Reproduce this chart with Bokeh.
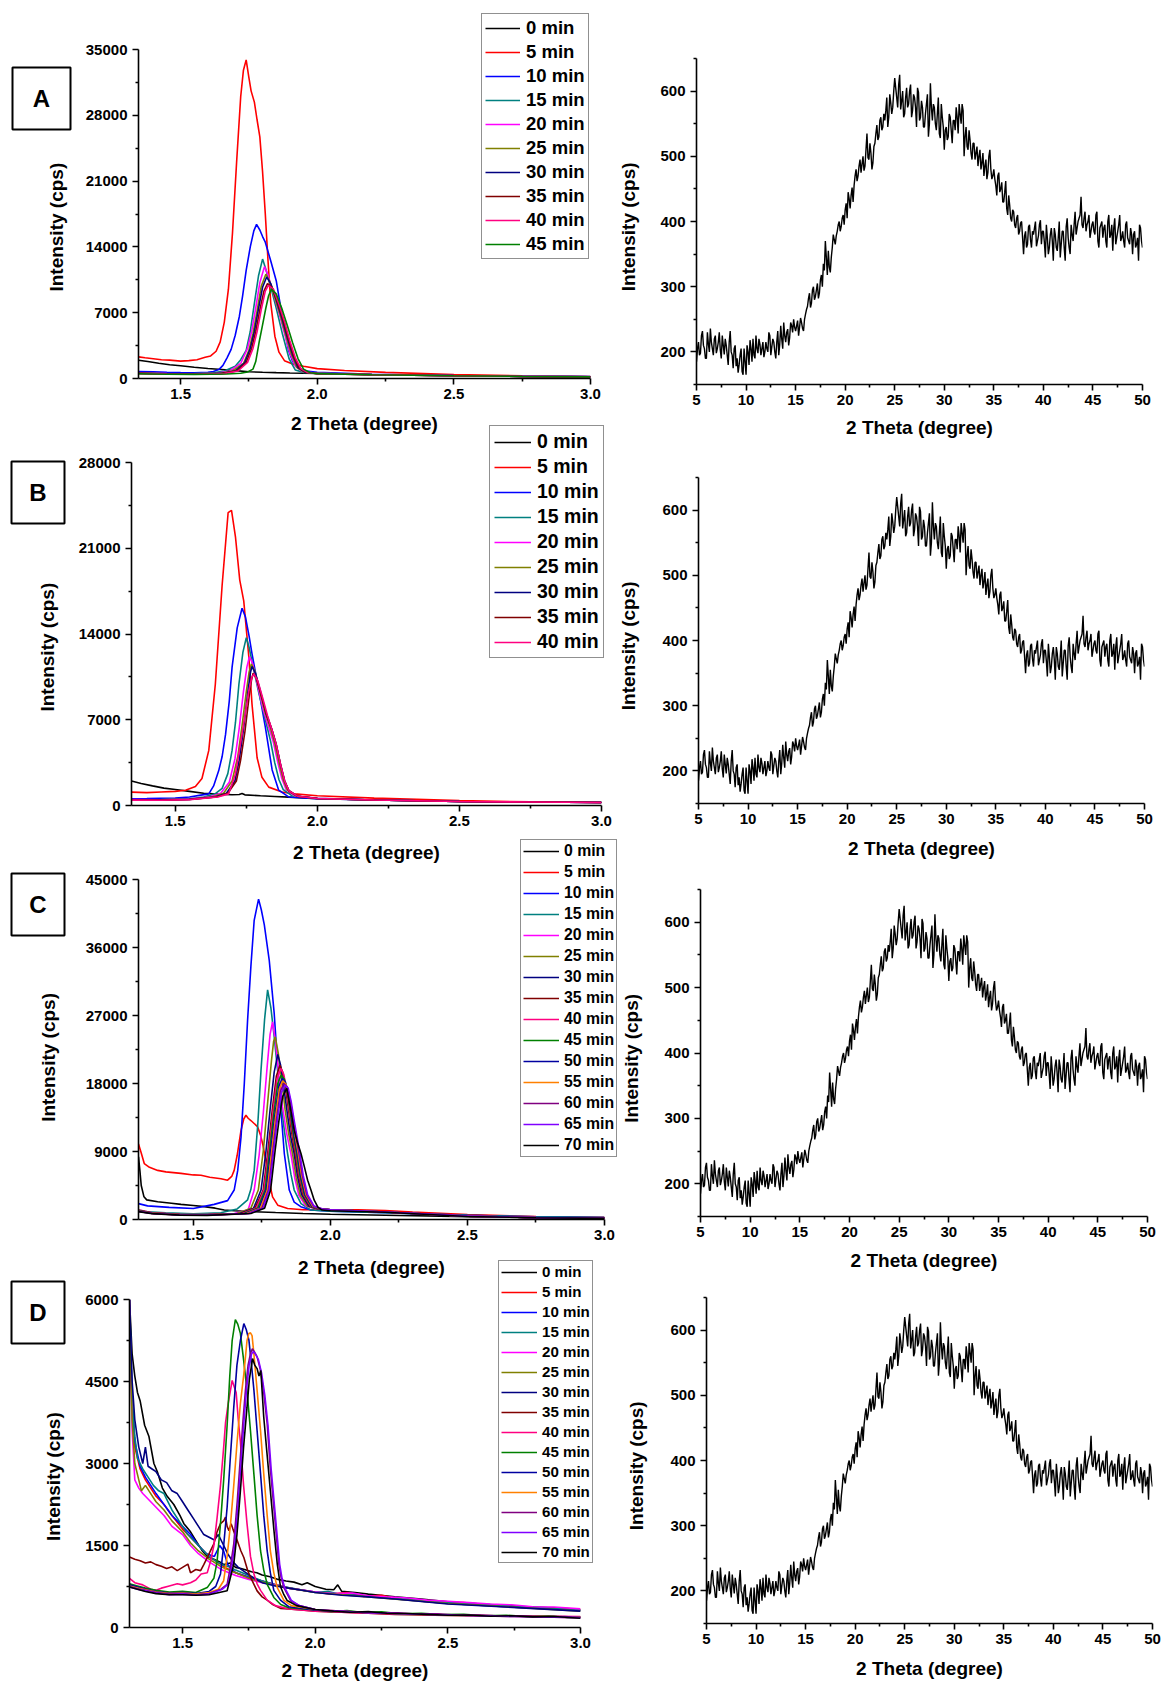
from bokeh.plotting import figure
from bokeh.models import Range1d, FixedTicker, PrintfTickFormatter, Legend, LegendItem, Label
from bokeh.embed import file_html
from bokeh.resources import INLINE

FONT = "Liberation Sans"

LABELS_A = ["0 min", "5 min", "10 min", "15 min", "20 min", "25 min", "30 min", "35 min", "40 min", "45 min"]
LABELS_B = LABELS_A[:9]
LABELS_CD = LABELS_A + ["50 min", "55 min", "60 min", "65 min", "70 min"]

COLORS = {"0 min": "#000000", "5 min": "#FF0000", "10 min": "#0000FF", "15 min": "#008080",
          "20 min": "#FF00FF", "25 min": "#808000", "30 min": "#000080", "35 min": "#800000",
          "40 min": "#FF0080", "45 min": "#008000", "50 min": "#0000A0", "55 min": "#FF8000",
          "60 min": "#800080", "65 min": "#8000FF", "70 min": "#000000"}

# ---- Panel A (flat lists: x0, y0, x1, y1, ...) ----
A_DATA = {
    "0 min": [1.346, 1950, 1.38, 1800, 1.42, 1620, 1.46, 1470, 1.50, 1350, 1.55, 1200, 1.60, 1060, 1.65, 950,
              1.70, 840, 1.75, 720, 1.80, 660, 1.85, 620, 1.90, 590, 2.0, 540, 2.2, 430, 2.5, 320, 2.75, 250, 3.0, 190],
    "5 min": [1.346, 2300, 1.37, 2200, 1.40, 2100, 1.43, 2000, 1.46, 1950, 1.50, 1850, 1.53, 1900, 1.56, 2000,
              1.59, 2250, 1.61, 2400, 1.63, 2900, 1.645, 3900, 1.66, 6000, 1.675, 9500, 1.69, 15500, 1.705, 23000,
              1.72, 30000, 1.73, 32800, 1.74, 33900, 1.75, 32000, 1.758, 30600, 1.77, 29400, 1.78, 27500,
              1.79, 25700, 1.80, 22000, 1.81, 17500, 1.82, 12500, 1.83, 8000, 1.845, 4500, 1.86, 2800,
              1.88, 1900, 1.91, 1550, 1.95, 1300, 2.0, 1050, 2.1, 850, 2.25, 650, 2.5, 420, 2.75, 280, 3.0, 200],
    "10 min": [1.346, 750, 1.40, 700, 1.45, 650, 1.50, 620, 1.55, 600, 1.60, 650, 1.62, 750, 1.64, 950,
               1.655, 1400, 1.67, 2200, 1.685, 3100, 1.70, 4600, 1.715, 6600, 1.727, 8800, 1.74, 11500,
               1.755, 14000, 1.768, 15700, 1.778, 16400, 1.79, 15800, 1.80, 15100, 1.81, 14500, 1.83, 12500,
               1.85, 10400, 1.865, 7800, 1.88, 5200, 1.895, 3000, 1.91, 1800, 1.93, 1100, 1.96, 800,
               2.0, 650, 2.2, 450, 2.5, 320, 2.75, 250, 3.0, 200],
    "15 min": [1.346, 550, 1.45, 500, 1.55, 520, 1.62, 600, 1.66, 800, 1.70, 1300, 1.72, 2000, 1.74, 3000,
               1.755, 5000, 1.77, 8000, 1.785, 10900, 1.80, 12700, 1.81, 11800, 1.825, 10300, 1.85, 7500,
               1.873, 4700, 1.897, 2100, 1.92, 900, 1.95, 650, 2.0, 550, 2.2, 420, 2.5, 300, 2.75, 230, 3.0, 180],
    "20 min": [1.346, 600, 1.45, 520, 1.55, 500, 1.63, 560, 1.68, 800, 1.72, 1600, 1.745, 3200, 1.76, 5000,
               1.775, 7500, 1.79, 10200, 1.807, 11900, 1.82, 11000, 1.84, 9000, 1.86, 7000, 1.88, 4800,
               1.90, 2700, 1.92, 1300, 1.945, 750, 2.0, 560, 2.2, 420, 2.5, 300, 2.75, 230, 3.0, 180],
    "25 min": [1.346, 580, 1.45, 500, 1.55, 480, 1.64, 540, 1.69, 800, 1.73, 1600, 1.75, 3000, 1.765, 4800,
               1.78, 7200, 1.795, 9800, 1.812, 11100, 1.825, 10400, 1.845, 8600, 1.865, 6700, 1.885, 4600,
               1.905, 2600, 1.925, 1200, 1.95, 700, 2.0, 540, 2.2, 410, 2.5, 300, 2.75, 230, 3.0, 180],
    "30 min": [1.346, 560, 1.45, 490, 1.55, 470, 1.65, 540, 1.70, 800, 1.735, 1700, 1.755, 3200, 1.77, 5000,
               1.785, 7400, 1.80, 9700, 1.815, 10800, 1.83, 10100, 1.85, 8400, 1.87, 6500, 1.89, 4400,
               1.91, 2500, 1.93, 1150, 1.955, 680, 2.0, 530, 2.2, 400, 2.5, 290, 2.75, 220, 3.0, 175],
    "35 min": [1.346, 540, 1.45, 480, 1.55, 460, 1.65, 520, 1.705, 800, 1.74, 1700, 1.76, 3200, 1.775, 5000,
               1.79, 7300, 1.805, 9300, 1.818, 10100, 1.835, 9700, 1.855, 8100, 1.875, 6300, 1.895, 4200,
               1.915, 2300, 1.935, 1100, 1.96, 650, 2.0, 520, 2.2, 400, 2.5, 290, 2.75, 220, 3.0, 175],
    "40 min": [1.346, 530, 1.45, 470, 1.55, 450, 1.66, 520, 1.71, 800, 1.745, 1700, 1.765, 3200, 1.78, 5000,
               1.795, 7300, 1.81, 9300, 1.821, 9900, 1.84, 9500, 1.86, 7900, 1.88, 6100, 1.90, 4000,
               1.92, 2200, 1.94, 1050, 1.965, 640, 2.0, 520, 2.2, 400, 2.5, 290, 2.75, 220, 3.0, 175],
    "45 min": [1.346, 500, 1.45, 450, 1.55, 440, 1.67, 480, 1.72, 560, 1.745, 700, 1.765, 1000, 1.775, 1800,
               1.787, 3800, 1.80, 5700, 1.812, 7500, 1.822, 8800, 1.832, 9500, 1.85, 9000, 1.87, 7500,
               1.89, 5700, 1.91, 3800, 1.93, 2100, 1.95, 1000, 1.975, 620, 2.0, 520, 2.2, 400, 2.5, 290,
               2.75, 220, 3.0, 175],
}

# ---- Panel B ----
B_DATA = {
    "0 min": [1.346, 2000, 1.38, 1800, 1.42, 1600, 1.46, 1420, 1.50, 1300, 1.55, 1150, 1.60, 1000, 1.65, 930,
              1.70, 880, 1.725, 900, 1.735, 980, 1.745, 870, 1.80, 800, 1.85, 740, 1.90, 680, 2.0, 560,
              2.2, 450, 2.5, 330, 2.75, 290, 3.0, 260],
    "5 min": [1.346, 1090, 1.40, 1050, 1.45, 1100, 1.50, 1150, 1.536, 1250, 1.571, 1550, 1.594, 2200,
              1.618, 4500, 1.641, 9900, 1.665, 18000, 1.686, 23900, 1.698, 24100, 1.712, 21900, 1.727, 18400,
              1.741, 16700, 1.759, 12100, 1.770, 8300, 1.788, 3900, 1.805, 2300, 1.829, 1500, 1.876, 1100,
              1.92, 950, 2.0, 800, 2.2, 600, 2.5, 400, 2.75, 300, 3.0, 250],
    "10 min": [1.346, 550, 1.40, 560, 1.45, 580, 1.50, 600, 1.55, 700, 1.59, 850, 1.618, 950, 1.635, 1600,
               1.653, 2850, 1.665, 4000, 1.677, 5800, 1.69, 8500, 1.70, 11300, 1.718, 14500, 1.735, 16100,
               1.747, 15400, 1.76, 13800, 1.770, 12400, 1.794, 9400, 1.817, 6400, 1.841, 2900, 1.864, 1250,
               1.899, 700, 2.0, 560, 2.2, 450, 2.5, 330, 2.75, 280, 3.0, 240],
    "15 min": [1.346, 450, 1.45, 480, 1.55, 550, 1.60, 700, 1.64, 950, 1.665, 1400, 1.685, 2600, 1.70, 4500,
               1.712, 6800, 1.724, 9900, 1.738, 12500, 1.75, 13700, 1.76, 12900, 1.775, 11200, 1.794, 9200,
               1.817, 7000, 1.835, 5300, 1.85, 3500, 1.865, 2100, 1.88, 1300, 1.91, 800, 2.0, 580, 2.2, 450,
               2.5, 330, 2.75, 280, 3.0, 240],
    "20 min": [1.346, 480, 1.45, 470, 1.55, 520, 1.62, 700, 1.66, 1000, 1.69, 1900, 1.71, 3800, 1.725, 6300,
               1.74, 9300, 1.752, 11300, 1.761, 12150, 1.772, 11600, 1.79, 9800, 1.81, 7800, 1.83, 6300,
               1.845, 5200, 1.86, 3600, 1.875, 2200, 1.89, 1300, 1.92, 800, 2.0, 580, 2.2, 450, 2.5, 330,
               2.75, 280, 3.0, 240],
    "25 min": [1.346, 470, 1.45, 460, 1.55, 510, 1.63, 700, 1.67, 1000, 1.70, 2000, 1.72, 4000, 1.735, 6500,
               1.75, 9300, 1.76, 10900, 1.768, 11550, 1.78, 11000, 1.795, 9600, 1.815, 7700, 1.835, 6300,
               1.85, 5100, 1.865, 3500, 1.88, 2100, 1.895, 1250, 1.925, 780, 2.0, 570, 2.2, 450, 2.5, 330,
               2.75, 280, 3.0, 240],
    "30 min": [1.346, 460, 1.45, 450, 1.55, 500, 1.64, 700, 1.68, 1000, 1.71, 2000, 1.725, 3700, 1.74, 6200,
               1.755, 9200, 1.765, 10900, 1.770, 11350, 1.782, 10800, 1.80, 9300, 1.82, 7500, 1.84, 6200,
               1.855, 5000, 1.87, 3400, 1.885, 2000, 1.90, 1200, 1.93, 760, 2.0, 570, 2.2, 450, 2.5, 330,
               2.75, 280, 3.0, 240],
    "35 min": [1.346, 450, 1.45, 440, 1.55, 490, 1.645, 700, 1.685, 1000, 1.715, 2000, 1.73, 3700, 1.745, 6000,
               1.76, 8900, 1.768, 10200, 1.774, 10800, 1.785, 10400, 1.80, 9200, 1.82, 7500, 1.84, 6200,
               1.855, 5000, 1.87, 3400, 1.885, 2000, 1.90, 1200, 1.93, 760, 2.0, 570, 2.2, 450, 2.5, 330,
               2.75, 280, 3.0, 240],
    "40 min": [1.346, 440, 1.45, 430, 1.55, 480, 1.65, 700, 1.688, 950, 1.712, 2600, 1.735, 5800, 1.759, 9400,
               1.77, 10500, 1.777, 10750, 1.79, 10200, 1.805, 9000, 1.825, 7300, 1.841, 6100, 1.855, 5000,
               1.87, 3400, 1.885, 2000, 1.90, 1200, 1.93, 760, 2.0, 570, 2.2, 450, 2.5, 330, 2.75, 280, 3.0, 240],
}

# ---- Panel C ----
C_DATA = {
    "0 min": [1.30, 8300, 1.305, 6500, 1.31, 4500, 1.32, 3000, 1.33, 2600, 1.37, 2350, 1.42, 2150, 1.455, 2000,
              1.50, 1850, 1.54, 1700, 1.58, 1500, 1.613, 1250, 1.65, 1150, 1.70, 1050, 1.80, 920, 1.90, 800,
              2.0, 700, 2.2, 560, 2.5, 380, 2.75, 280, 3.0, 200],
    "5 min": [1.30, 10000, 1.31, 8800, 1.321, 7400, 1.34, 6900, 1.37, 6500, 1.40, 6300, 1.455, 6100, 1.50, 5900,
              1.528, 5850, 1.56, 5600, 1.601, 5400, 1.625, 5200, 1.64, 5700, 1.649, 6500, 1.66, 8500,
              1.674, 11800, 1.684, 13300, 1.692, 13800, 1.70, 13400, 1.71, 13100, 1.734, 12300, 1.745, 11200,
              1.753, 10000, 1.762, 8300, 1.771, 6500, 1.78, 4500, 1.789, 3000, 1.808, 1900, 1.844, 1450,
              1.90, 1300, 2.0, 1300, 2.1, 1280, 2.2, 1200, 2.3, 1000, 2.5, 650, 2.75, 400, 3.0, 280],
    "10 min": [1.30, 2100, 1.333, 1800, 1.412, 1600, 1.50, 1450, 1.576, 2000, 1.625, 2500, 1.649, 3900,
               1.662, 6500, 1.674, 10900, 1.686, 18000, 1.698, 26400, 1.71, 33500, 1.722, 39600, 1.738, 42400,
               1.748, 41000, 1.759, 39000, 1.777, 34300, 1.795, 27300, 1.813, 17500, 1.832, 8700, 1.85, 3900,
               1.868, 2300, 1.892, 1700, 1.929, 1250, 2.0, 1100, 2.2, 900, 2.5, 550, 2.75, 350, 3.0, 250],
    "15 min": [1.30, 1100, 1.40, 900, 1.50, 750, 1.60, 900, 1.66, 1400, 1.698, 2600, 1.71, 4000, 1.722, 6500,
               1.735, 12500, 1.747, 19800, 1.76, 26500, 1.771, 30400, 1.783, 28000, 1.795, 24200, 1.808, 19500,
               1.82, 15400, 1.832, 11800, 1.844, 8700, 1.856, 6000, 1.868, 3900, 1.893, 2100, 1.929, 1250,
               2.0, 1100, 2.2, 900, 2.5, 550, 2.75, 350, 3.0, 250],
    "20 min": [1.30, 1300, 1.35, 900, 1.45, 700, 1.55, 650, 1.65, 800, 1.70, 1300, 1.722, 3900, 1.74, 8500,
               1.755, 14000, 1.77, 20500, 1.78, 24500, 1.789, 26150, 1.80, 23500, 1.812, 19000, 1.825, 15000,
               1.84, 11500, 1.856, 8700, 1.87, 5500, 1.885, 3200, 1.91, 1800, 1.95, 1400, 2.0, 1300, 2.2, 1000,
               2.5, 450, 2.75, 250, 3.0, 180],
    "25 min": [1.30, 1250, 1.35, 880, 1.45, 680, 1.55, 640, 1.66, 800, 1.71, 1500, 1.737, 3900, 1.755, 9000,
               1.77, 15000, 1.785, 21000, 1.793, 23600, 1.799, 24170, 1.81, 22000, 1.822, 18500, 1.835, 14500,
               1.848, 11300, 1.862, 8700, 1.875, 5600, 1.89, 3200, 1.915, 1800, 1.95, 1400, 2.0, 1300,
               2.2, 1000, 2.5, 450, 2.75, 250, 3.0, 180],
    "30 min": [1.30, 1200, 1.35, 860, 1.45, 660, 1.55, 630, 1.67, 800, 1.72, 1500, 1.747, 3900, 1.765, 9000,
               1.78, 14500, 1.795, 19500, 1.808, 21840, 1.818, 20500, 1.83, 17500, 1.843, 14000, 1.855, 11000,
               1.868, 8700, 1.88, 5700, 1.895, 3300, 1.92, 1800, 1.955, 1400, 2.0, 1300, 2.2, 1000, 2.5, 450,
               2.75, 250, 3.0, 180],
    "35 min": [1.30, 1180, 1.35, 850, 1.45, 650, 1.55, 620, 1.675, 800, 1.725, 1500, 1.755, 3900, 1.772, 9000,
               1.788, 14500, 1.803, 19000, 1.816, 20420, 1.826, 19500, 1.838, 17000, 1.85, 13800, 1.861, 11000,
               1.872, 8700, 1.884, 5800, 1.90, 3300, 1.925, 1800, 1.96, 1400, 2.0, 1300, 2.2, 1000, 2.5, 450,
               2.75, 250, 3.0, 180],
    "40 min": [1.30, 1160, 1.35, 840, 1.45, 640, 1.55, 610, 1.68, 800, 1.73, 1500, 1.758, 3900, 1.775, 9000,
               1.79, 14000, 1.806, 18700, 1.819, 19990, 1.83, 19200, 1.842, 16800, 1.853, 13700, 1.864, 11000,
               1.875, 8700, 1.887, 5800, 1.903, 3300, 1.928, 1800, 1.96, 1400, 2.0, 1300, 2.2, 1000, 2.5, 450,
               2.75, 250, 3.0, 180],
    "45 min": [1.30, 1140, 1.35, 830, 1.45, 630, 1.55, 600, 1.685, 800, 1.735, 1500, 1.762, 3900, 1.778, 9000,
               1.793, 13800, 1.808, 18000, 1.82, 19100, 1.832, 18600, 1.845, 16500, 1.856, 13500, 1.866, 11000,
               1.877, 8700, 1.889, 5800, 1.905, 3300, 1.93, 1800, 1.962, 1400, 2.0, 1300, 2.2, 1000, 2.5, 450,
               2.75, 250, 3.0, 180],
    "50 min": [1.30, 1120, 1.35, 820, 1.45, 620, 1.55, 590, 1.69, 800, 1.74, 1500, 1.766, 3900, 1.782, 9000,
               1.797, 13700, 1.812, 17600, 1.824, 18660, 1.836, 18200, 1.848, 16200, 1.859, 13400, 1.869, 11000,
               1.88, 8700, 1.892, 5800, 1.908, 3300, 1.932, 1800, 1.965, 1400, 2.0, 1300, 2.2, 1000, 2.5, 450,
               2.75, 250, 3.0, 170],
    "55 min": [1.30, 1100, 1.35, 810, 1.45, 610, 1.55, 580, 1.695, 800, 1.745, 1500, 1.77, 3900, 1.786, 9000,
               1.80, 13500, 1.814, 17300, 1.826, 18350, 1.838, 17900, 1.85, 16000, 1.862, 13300, 1.872, 11000,
               1.883, 8700, 1.895, 5800, 1.911, 3300, 1.935, 1800, 1.968, 1400, 2.0, 1300, 2.2, 1000, 2.5, 450,
               2.75, 250, 3.0, 170],
    "60 min": [1.30, 1080, 1.35, 800, 1.45, 600, 1.55, 570, 1.70, 800, 1.75, 1500, 1.774, 3900, 1.79, 9000,
               1.804, 13400, 1.818, 17000, 1.83, 18000, 1.842, 17600, 1.854, 15800, 1.865, 13200, 1.875, 11000,
               1.886, 8700, 1.898, 5800, 1.914, 3300, 1.938, 1800, 1.97, 1400, 2.0, 1300, 2.2, 1000, 2.5, 450,
               2.75, 250, 3.0, 170],
    "65 min": [1.30, 1060, 1.35, 790, 1.45, 590, 1.55, 560, 1.705, 800, 1.755, 1500, 1.777, 3900, 1.793, 9000,
               1.807, 13300, 1.821, 16800, 1.834, 17780, 1.846, 17400, 1.857, 15600, 1.868, 13100, 1.878, 11000,
               1.889, 8700, 1.901, 5800, 1.917, 3300, 1.94, 1800, 1.972, 1400, 2.0, 1300, 2.2, 1000, 2.5, 450,
               2.75, 250, 3.0, 170],
    "70 min": [1.30, 1040, 1.35, 780, 1.45, 580, 1.55, 550, 1.71, 800, 1.76, 1500, 1.782, 3900, 1.798, 9000,
               1.812, 13000, 1.826, 16300, 1.841, 17340, 1.853, 15000, 1.868, 11800, 1.88, 10200, 1.893, 8700,
               1.905, 7000, 1.917, 5200, 1.93, 3800, 1.941, 2550, 1.955, 1600, 1.97, 1250, 2.0, 1150, 2.2, 950,
               2.5, 400, 2.75, 230, 3.0, 150],
}

# ---- Panel D ----
D_DATA = {
    "0 min": [1.30, 6000, 1.31, 5000, 1.32, 4600, 1.33, 4300, 1.34, 4150, 1.357, 3700, 1.373, 3500, 1.392, 3000,
              1.405, 2850, 1.424, 2550, 1.442, 2400, 1.467, 2250, 1.49, 2050, 1.505, 1900, 1.53, 1750,
              1.555, 1550, 1.575, 1400, 1.593, 1300, 1.618, 1250, 1.64, 1200, 1.656, 1150, 1.68, 1180,
              1.70, 1100, 1.72, 1080, 1.74, 1050, 1.76, 1020, 1.78, 1000, 1.80, 960, 1.83, 930, 1.86, 880,
              1.89, 850, 1.92, 830, 1.95, 780, 1.97, 820, 2.0, 750, 2.04, 700, 2.07, 690, 2.085, 780,
              2.10, 660, 2.15, 640, 2.2, 610, 2.3, 560, 2.4, 520, 2.5, 470, 2.6, 430, 2.7, 410, 2.8, 370,
              2.9, 360, 3.0, 320],
    "5 min": [1.30, 5800, 1.31, 4000, 1.32, 3300, 1.34, 2900, 1.36, 2700, 1.38, 2550, 1.40, 2400, 1.43, 2250,
              1.46, 2050, 1.50, 1800, 1.53, 1650, 1.56, 1500, 1.60, 1300, 1.63, 1200, 1.66, 1100, 1.70, 1000,
              1.75, 920, 1.80, 850, 1.85, 780, 1.90, 720, 2.0, 650, 2.06, 610, 2.12, 640, 2.18, 570, 2.25, 590,
              2.32, 520, 2.4, 500, 2.48, 470, 2.56, 455, 2.64, 420, 2.72, 400, 2.8, 375, 2.88, 360, 2.95, 345,
              3.0, 330],
    "10 min": [1.30, 5900, 1.31, 4100, 1.32, 3400, 1.34, 2950, 1.36, 2750, 1.38, 2600, 1.40, 2450, 1.43, 2250,
               1.46, 2050, 1.50, 1850, 1.53, 1700, 1.56, 1500, 1.59, 1350, 1.62, 1300, 1.64, 1500, 1.655, 1400,
               1.67, 1150, 1.70, 1000, 1.75, 920, 1.80, 850, 1.85, 780, 1.90, 720, 2.0, 650, 2.2, 570,
               2.5, 440, 2.75, 370, 3.0, 310],
    "15 min": [1.30, 6000, 1.31, 4200, 1.32, 3500, 1.33, 3100, 1.35, 2900, 1.37, 2750, 1.39, 2600, 1.41, 2500,
               1.43, 2450, 1.44, 2350, 1.46, 2150, 1.48, 2000, 1.50, 1850, 1.52, 1700, 1.55, 1550, 1.58, 1400,
               1.60, 1300, 1.63, 1200, 1.65, 1150, 1.68, 1100, 1.70, 1050, 1.75, 950, 1.80, 850, 1.85, 780,
               1.90, 730, 2.0, 640, 2.05, 660, 2.1, 600, 2.16, 590, 2.22, 560, 2.3, 545, 2.38, 510, 2.45, 480,
               2.52, 450, 2.6, 440, 2.68, 410, 2.76, 390, 2.85, 370, 2.93, 340, 3.0, 320],
    "20 min": [1.30, 6000, 1.31, 3600, 1.32, 2700, 1.335, 2550, 1.35, 2450, 1.37, 2350, 1.40, 2200, 1.43, 2050,
               1.46, 1850, 1.50, 1700, 1.53, 1500, 1.56, 1350, 1.60, 1200, 1.65, 1050, 1.70, 950, 1.75, 880,
               1.80, 820, 1.85, 780, 1.90, 720, 2.0, 650, 2.07, 620, 2.14, 630, 2.2, 580, 2.27, 560, 2.35, 540,
               2.42, 500, 2.5, 480, 2.58, 455, 2.66, 430, 2.74, 415, 2.82, 380, 2.9, 375, 3.0, 340],
    "25 min": [1.30, 5600, 1.31, 3800, 1.32, 3000, 1.335, 2700, 1.345, 2500, 1.36, 2600, 1.38, 2450, 1.40, 2300,
               1.43, 2150, 1.46, 1950, 1.50, 1750, 1.53, 1550, 1.56, 1400, 1.60, 1250, 1.65, 1100, 1.70, 1000,
               1.75, 900, 1.80, 830, 1.85, 770, 1.90, 720, 2.0, 640, 2.2, 560, 2.5, 440, 2.75, 370, 3.0, 300],
    "30 min": [1.30, 6000, 1.31, 4500, 1.32, 3800, 1.335, 3300, 1.35, 3000, 1.36, 3300, 1.37, 2950, 1.385, 2900,
               1.40, 2850, 1.42, 2700, 1.44, 2650, 1.46, 2500, 1.48, 2450, 1.50, 2300, 1.52, 2150, 1.54, 2000,
               1.56, 1850, 1.58, 1700, 1.60, 1650, 1.62, 1600, 1.635, 1700, 1.65, 1550, 1.67, 1350, 1.69, 1200,
               1.71, 1100, 1.74, 1000, 1.77, 900, 1.80, 820, 1.85, 760, 1.90, 720, 1.95, 680, 2.0, 640,
               2.1, 590, 2.2, 560, 2.3, 520, 2.5, 430, 2.7, 380, 3.0, 300],
    "35 min": [1.30, 1290, 1.32, 1250, 1.34, 1220, 1.36, 1180, 1.38, 1200, 1.40, 1150, 1.42, 1120, 1.44, 1080,
               1.46, 1110, 1.48, 1040, 1.50, 1100, 1.52, 1160, 1.53, 1000, 1.55, 1060, 1.568, 1040, 1.58, 1150,
               1.593, 1280, 1.605, 1400, 1.618, 1530, 1.63, 1750, 1.643, 1900, 1.655, 1950, 1.662, 2020,
               1.668, 1850, 1.675, 1770, 1.683, 1900, 1.69, 1800, 1.706, 1590, 1.72, 1400, 1.731, 1280,
               1.745, 1050, 1.756, 920, 1.77, 780, 1.781, 670, 1.80, 560, 1.819, 500, 1.84, 420, 1.869, 350,
               1.90, 340, 1.95, 320, 2.0, 300, 2.1, 280, 2.2, 260, 2.3, 240, 2.5, 220, 2.75, 200, 3.0, 180],
    "40 min": [1.30, 900, 1.32, 820, 1.35, 780, 1.38, 700, 1.40, 680, 1.42, 720, 1.45, 760, 1.48, 800, 1.50, 780,
               1.53, 820, 1.55, 870, 1.57, 980, 1.593, 1000, 1.605, 1200, 1.618, 1500, 1.63, 2000, 1.643, 2600,
               1.655, 3300, 1.662, 3750, 1.672, 4100, 1.681, 4350, 1.687, 4520, 1.695, 4400, 1.702, 4300,
               1.71, 3800, 1.718, 3400, 1.73, 2600, 1.743, 1900, 1.756, 1300, 1.769, 980, 1.781, 800,
               1.794, 680, 1.819, 500, 1.85, 400, 1.90, 340, 2.0, 300, 2.2, 260, 2.5, 230, 2.75, 210, 3.0, 200],
    "45 min": [1.30, 800, 1.33, 760, 1.36, 720, 1.40, 680, 1.45, 650, 1.50, 660, 1.55, 640, 1.593, 730,
               1.618, 900, 1.63, 1200, 1.643, 1900, 1.655, 2700, 1.668, 3700, 1.678, 4600, 1.687, 5250,
               1.699, 5630, 1.708, 5550, 1.718, 5380, 1.73, 4900, 1.743, 4340, 1.756, 3600, 1.769, 2800,
               1.781, 2050, 1.794, 1400, 1.806, 1050, 1.819, 790, 1.844, 550, 1.87, 420, 1.90, 360, 2.0, 320,
               2.06, 290, 2.12, 310, 2.18, 275, 2.25, 285, 2.32, 250, 2.4, 260, 2.48, 235, 2.56, 240, 2.64, 215,
               2.72, 225, 2.8, 200, 2.88, 210, 2.95, 185, 3.0, 190],
    "50 min": [1.30, 780, 1.33, 740, 1.36, 700, 1.40, 660, 1.45, 630, 1.50, 640, 1.55, 620, 1.60, 660,
               1.625, 750, 1.643, 980, 1.655, 1500, 1.668, 2200, 1.68, 3100, 1.693, 4030, 1.705, 4800,
               1.718, 5250, 1.731, 5560, 1.74, 5450, 1.75, 5260, 1.76, 4800, 1.769, 4340, 1.781, 3600,
               1.794, 2810, 1.806, 2050, 1.819, 1400, 1.831, 1000, 1.844, 680, 1.869, 500, 1.90, 380,
               2.0, 320, 2.2, 270, 2.5, 230, 2.75, 210, 3.0, 190],
    "55 min": [1.30, 760, 1.33, 720, 1.36, 690, 1.40, 650, 1.45, 620, 1.50, 630, 1.55, 610, 1.60, 640,
               1.635, 700, 1.655, 856, 1.668, 1300, 1.681, 1900, 1.693, 2600, 1.706, 3420, 1.718, 4100,
               1.731, 4640, 1.743, 5250, 1.75, 5380, 1.756, 5390, 1.762, 5340, 1.769, 5000, 1.781, 4340,
               1.794, 3600, 1.806, 2810, 1.819, 2050, 1.831, 1400, 1.844, 1000, 1.857, 730, 1.882, 495,
               1.91, 400, 2.0, 330, 2.2, 270, 2.5, 230, 2.75, 210, 3.0, 190],
    "60 min": [1.30, 750, 1.33, 710, 1.36, 680, 1.40, 640, 1.45, 610, 1.50, 620, 1.55, 600, 1.60, 620,
               1.645, 700, 1.668, 790, 1.68, 1100, 1.693, 1530, 1.706, 2300, 1.718, 3120, 1.728, 3800,
               1.737, 4340, 1.747, 4800, 1.756, 5010, 1.763, 5100, 1.77, 5050, 1.781, 4950, 1.794, 4700,
               1.806, 4300, 1.819, 3730, 1.831, 2900, 1.844, 2200, 1.855, 1600, 1.863, 1160, 1.872, 900,
               1.882, 730, 1.907, 495, 1.94, 400, 2.0, 330, 2.05, 300, 2.11, 295, 2.17, 280, 2.24, 265,
               2.31, 270, 2.38, 245, 2.46, 250, 2.54, 225, 2.62, 230, 2.7, 210, 2.78, 215, 2.86, 195, 2.94, 200,
               3.0, 180],
    "65 min": [1.30, 740, 1.33, 700, 1.36, 670, 1.40, 630, 1.45, 600, 1.50, 610, 1.55, 590, 1.60, 610,
               1.65, 700, 1.672, 790, 1.685, 1100, 1.697, 1530, 1.71, 2300, 1.722, 3120, 1.732, 3800,
               1.741, 4340, 1.751, 4800, 1.76, 5000, 1.767, 5050, 1.775, 5000, 1.786, 4900, 1.798, 4650,
               1.81, 4250, 1.822, 3700, 1.834, 2900, 1.847, 2200, 1.858, 1600, 1.866, 1160, 1.875, 900,
               1.885, 730, 1.91, 495, 1.94, 400, 2.0, 330, 2.2, 270, 2.5, 230, 2.75, 200, 3.0, 180],
    "70 min": [1.30, 740, 1.33, 700, 1.36, 660, 1.40, 620, 1.45, 600, 1.50, 600, 1.55, 590, 1.60, 600,
               1.668, 673, 1.693, 1160, 1.705, 1700, 1.718, 2500, 1.73, 3300, 1.743, 4030, 1.752, 4550,
               1.764, 4920, 1.772, 4800, 1.781, 4735, 1.788, 4600, 1.795, 4700, 1.806, 3850, 1.818, 3200,
               1.831, 2500, 1.844, 1800, 1.857, 1160, 1.869, 750, 1.882, 600, 1.894, 495, 1.93, 400,
               2.0, 330, 2.07, 300, 2.13, 280, 2.2, 290, 2.27, 260, 2.34, 255, 2.42, 240, 2.5, 225, 2.58, 230,
               2.66, 205, 2.74, 215, 2.82, 195, 2.9, 200, 3.0, 170],
}

# ---- Right panels: amorphous pattern, 5-50 deg, 0.1 deg steps ----
R_START = 5.0
R_STEP = 0.1
# values at 5.0, 5.2, 5.4, ... 50.0
R_Y_EVEN = [
    185, 215, 198, 232, 205, 190, 212, 236, 205, 220, 198, 215, 203, 225, 196,
    210, 180, 232, 195, 205, 178, 168, 195, 170, 205, 165, 200, 218, 185, 195,
    225, 198, 212, 205, 192, 215, 200, 225, 208, 215, 190, 232, 212, 220, 245,
    215, 235, 222, 240, 250, 232, 248, 238, 245, 232, 258, 270, 290, 275, 300,
    285, 305, 290, 318, 335, 370, 318, 330, 345, 380, 365, 385, 400, 392, 410,
    418, 405, 435, 440, 430, 470, 462, 485, 475, 500, 485, 535, 495, 505, 490,
    520, 548, 530, 560, 545, 555, 590, 560, 582, 575, 620, 590, 610, 572, 600,
    565, 605, 580, 610, 570, 590, 545, 598, 560, 575, 545, 580, 530, 612, 555,
    575, 540, 590, 528, 560, 510, 545, 530, 560, 520, 555, 575, 535, 565, 580,
    500, 545, 510, 525, 495, 520, 505, 485, 510, 490, 470, 495, 475, 510, 465,
    480, 455, 470, 445, 460, 430, 462, 410, 425, 400, 415, 390, 410, 385, 400,
    350, 385, 365, 395, 360, 380, 400, 370, 395, 365, 385, 345, 375, 360, 390,
    340, 380, 355, 400, 365, 385, 340, 405, 360, 395, 370, 415, 390, 405, 438,
    390, 415, 395, 410, 385, 400, 380, 415, 360, 395, 375, 395, 360, 410, 380,
    355, 405, 375, 395, 370, 385, 360, 400, 370, 390, 350, 385, 365, 340, 390,
    360,
]
# values at 5.1, 5.3, 5.5, ... 49.9
R_Y_ODD = [
    205, 195, 225, 210, 190, 230, 200, 215, 195, 225, 205, 230, 190, 210, 220,
    195, 215, 200, 175, 210, 190, 180, 205, 165, 185, 210, 180, 205, 220, 190,
    205, 220, 195, 215, 200, 205, 230, 195, 220, 200, 215, 195, 240, 205, 225,
    230, 210, 245, 230, 238, 240, 225, 252, 236, 250, 265, 282, 268, 295, 280,
    295, 282, 310, 300, 325, 345, 355, 322, 360, 372, 378, 395, 385, 405, 395,
    428, 445, 420, 452, 455, 480, 470, 495, 488, 478, 510, 498, 520, 480, 515,
    535, 525, 555, 540, 565, 570, 545, 595, 565, 600, 605, 575, 625, 585, 560,
    590, 575, 600, 560, 595, 575, 605, 555, 585, 545, 565, 595, 550, 575, 580,
    550, 565, 535, 580, 545, 540, 525, 565, 540, 555, 540, 560, 580, 550, 570,
    530, 515, 540, 505, 520, 495, 515, 500, 480, 505, 485, 465, 500, 480, 470,
    465, 440, 475, 450, 430, 445, 420, 440, 405, 418, 395, 405, 380, 398, 375,
    378, 360, 392, 372, 385, 390, 362, 378, 402, 385, 368, 395, 350, 380, 370,
    390, 360, 375, 345, 385, 360, 392, 375, 350, 380, 395, 380, 400, 410, 395,
    405, 385, 400, 375, 395, 385, 410, 370, 390, 400, 390, 370, 400, 375, 395,
    390, 365, 385, 410, 375, 370, 395, 375, 365, 380, 380, 360, 375, 395, 370,
]
R_Y = []
for _i in range(len(R_Y_ODD)):
    R_Y.append(R_Y_EVEN[_i])
    R_Y.append(R_Y_ODD[_i])
R_Y.append(R_Y_EVEN[-1])
R_X = [R_START + R_STEP * i for i in range(len(R_Y))]

LEFT_XTICKS = [1.5, 2.0, 2.5, 3.0]
LEFT_XMINOR = [1.25, 1.75, 2.25, 2.75]
RIGHT_XTICKS = [5, 10, 15, 20, 25, 30, 35, 40, 45, 50]
RIGHT_XMINOR = [7.5, 12.5, 17.5, 22.5, 27.5, 32.5, 37.5, 42.5, 47.5]
RIGHT_YTICKS = [200, 300, 400, 500, 600]
RIGHT_YMINOR = [150, 250, 350, 450, 550, 650]

NBSP = "\u00a0"


def place(p, left, top):
    p.styles = {"position": "absolute", "left": f"{left}px", "top": f"{top}px"}


def bare(p):
    p.background_fill_color = None
    p.border_fill_color = None
    p.outline_line_color = None
    p.grid.visible = False


def style_axis(ax, ticks, minor, fmt, label_standoff, tick_standoff=5):
    ax.ticker = FixedTicker(ticks=ticks, minor_ticks=minor)
    ax.formatter = PrintfTickFormatter(format=fmt)
    ax.axis_line_width = 1.6
    ax.axis_line_color = "black"
    ax.major_tick_line_width = 1.6
    ax.minor_tick_line_width = 1.6
    ax.major_tick_line_color = "black"
    ax.minor_tick_line_color = "black"
    ax.major_tick_out = 6
    ax.major_tick_in = 0
    ax.minor_tick_out = 3
    ax.minor_tick_in = 0
    ax.major_label_text_font = FONT
    ax.major_label_text_font_style = "bold"
    ax.major_label_text_font_size = "15px"
    ax.major_label_text_color = "black"
    ax.major_label_standoff = tick_standoff
    ax.axis_label_text_font = FONT
    ax.axis_label_text_font_style = "bold"
    ax.axis_label_text_font_size = "19px"
    ax.axis_label_text_color = "black"
    ax.axis_label_standoff = label_standoff


def make_panel(frame, borders, xr, yr, xt, xm, yt, ym, xfmt, yfmt, xls, yls, ypad):
    fx0, fy0, fw, fh = frame
    bl, bt, br, bb = borders
    p = figure(width=bl + fw + br, height=bt + fh + bb,
               x_range=Range1d(*xr), y_range=Range1d(*yr),
               output_backend="svg", toolbar_location=None,
               min_border_left=bl, min_border_right=br, min_border_top=bt, min_border_bottom=bb)
    place(p, fx0 - bl, fy0 - bt)
    bare(p)
    p.xaxis.axis_label = "2 Theta (degree)"
    # trailing no-break spaces move the centred label slightly down, as in the original figure
    p.yaxis.axis_label = "Intensity (cps)" + NBSP * ypad
    style_axis(p.xaxis[0], xt, xm, xfmt, xls, 4)
    style_axis(p.yaxis[0], yt, ym, yfmt, yls, 5)
    return p


def add_curves(p, data, labels):
    items = []
    for lab in labels:
        flat = data[lab]
        r = p.line(flat[0::2], flat[1::2], line_color=COLORS[lab], line_width=1.6)
        items.append(LegendItem(label=lab, renderers=[r]))
    return items


def legend_fig(data, labels, left, top, w, h, font_size, glyph_w, standoff, spacing, padding):
    # a frameless figure that only carries the legend box (its own copies of the curves lie off-range)
    p = figure(width=w, height=h, x_range=Range1d(-2, -1), y_range=Range1d(-2, -1),
               x_axis_location=None, y_axis_location=None,
               output_backend="svg", toolbar_location=None, min_border=0)
    place(p, left - 1, top - 1)
    bare(p)
    items = add_curves(p, data, labels)
    leg = Legend(items=items, location="top_left", orientation="vertical",
                 label_text_font=FONT, label_text_font_style="bold", label_text_font_size=font_size,
                 label_text_color="black",
                 glyph_width=glyph_w, glyph_height=10, label_height=10, label_standoff=standoff,
                 spacing=spacing, padding=padding, margin=1,
                 border_line_color="#222222", border_line_width=1.5,
                 background_fill_color="white", background_fill_alpha=1.0)
    p.add_layout(leg)
    return p


def letter_fig(text, left, top, w, h):
    p = figure(width=w + 4, height=h + 4, x_range=Range1d(0, 1), y_range=Range1d(0, 1),
               x_axis_location=None, y_axis_location=None,
               output_backend="svg", toolbar_location=None, min_border=2)
    place(p, left - 2, top - 2)
    p.background_fill_color = "white"
    p.border_fill_color = None
    p.grid.visible = False
    p.outline_line_color = "black"
    p.outline_line_width = 2
    p.add_layout(Label(x=w / 2, y=h / 2, x_units="screen", y_units="screen", text=text,
                       text_font=FONT, text_font_style="bold", text_font_size="24px",
                       text_color="black", text_align="center", text_baseline="middle"))
    return p


def left_panel(data, labels, frame, borders, xr, ymax, ystep, xls, yls, ypad):
    yt = [ystep * i for i in range(int(round(ymax / ystep)) + 1)]
    ym = [ystep * i + ystep / 2 for i in range(int(round(ymax / ystep)))]
    p = make_panel(frame, borders, xr, (0, ymax), LEFT_XTICKS, LEFT_XMINOR, yt, ym, "%.1f", "%d",
                   xls, yls, ypad)
    add_curves(p, data, labels)
    return p


def right_panel(frame, borders, xls, yls, ypad):
    p = make_panel(frame, borders, (5, 50), (150, 650), RIGHT_XTICKS, RIGHT_XMINOR,
                   RIGHT_YTICKS, RIGHT_YMINOR, "%d", "%d", xls, yls, ypad)
    p.line(R_X, R_Y, line_color="black", line_width=1.4)
    return p


pA = left_panel(A_DATA, LABELS_A, (138, 49, 452, 329), (130, 45, 22, 62), (1.346, 3.0), 35000, 7000, 11, 16, 5)
pB = left_panel(B_DATA, LABELS_B, (131, 462, 470, 343), (125, 40, 22, 62), (1.346, 3.0), 28000, 7000, 13, 18, 5)
pC = left_panel(C_DATA, LABELS_CD, (138, 879, 466, 340), (130, 40, 22, 63), (1.3, 3.0), 45000, 9000, 14, 24, 3)
pD = left_panel(D_DATA, LABELS_CD, (129, 1299, 451, 328), (125, 40, 20, 59), (1.3, 3.0), 6000, 1500, 9, 18, 5)

rA = right_panel((696, 58, 446, 326), (116, 38, 20, 60), 9, 18, 2)
rB = right_panel((698, 477, 446, 326), (118, 27, 18, 62), 11, 20, 2)
rC = right_panel((700, 889, 447, 327), (120, 19, 15, 60), 10, 19, 2)
rD = right_panel((706, 1297, 446, 326), (126, 17, 10, 63), 11, 20, 2)

lgA = legend_fig(A_DATA, LABELS_A, 481, 13, 125, 260, "18.5px", 35, 6, 2, 3)
lgB = legend_fig(B_DATA, LABELS_B, 489, 425, 130, 245, "19.5px", 37, 6, 2, 4)
lgC = legend_fig(C_DATA, LABELS_CD, 520, 839, 115, 325, "15.8px", 36, 5, 3, 2)
lgD = legend_fig(D_DATA, LABELS_CD, 498, 1260, 110, 315, "15.1px", 36, 5, 3, 2)

ltA = letter_fig("A", 12, 67, 58, 62)
ltB = letter_fig("B", 11, 461, 53, 62)
ltC = letter_fig("C", 11, 873, 53, 62)
ltD = letter_fig("D", 11, 1281, 53, 62)

roots = [pA, rA, pB, rB, pC, rC, pD, rD, lgA, lgB, lgC, lgD, ltA, ltB, ltC, ltD]

open("out.html", "w").write(file_html(roots, INLINE))
